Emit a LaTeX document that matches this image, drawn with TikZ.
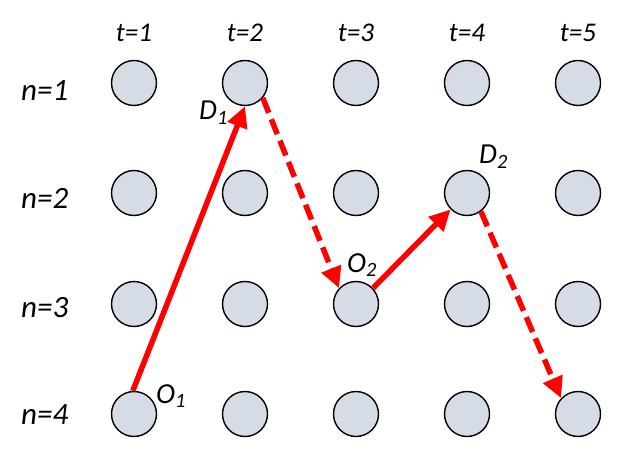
\documentclass[tikz,border=0pt]{standalone}
\usepackage{fontspec}
\setmainfont{Carlito}
\usetikzlibrary{arrows.meta}
\definecolor{nodefill}{HTML}{D6DCE5}
\tikzset{
  dot/.style={circle,draw=black,line width=1.4pt,fill=nodefill,minimum size=45pt,inner sep=0pt},
  tlab/.style={font=\fontsize{27}{27}\selectfont\itshape,anchor=base,inner sep=0pt},
  nlab/.style={font=\fontsize{31}{31}\selectfont\itshape,anchor=base west,inner sep=0pt},
  plab/.style={font=\fontsize{29}{29}\selectfont\itshape,anchor=base west,inner sep=0pt},
  route/.style={draw=red,line width=5.5pt,-{Triangle[length=21pt,width=20pt]}},
  routedash/.style={route,dash pattern=on 16pt off 7pt},
}
\begin{document}
\begin{tikzpicture}[x=1pt,y=-1pt]
\useasboundingbox (0,0) rectangle (631,454);
% circles
\foreach \c/\xx in {1/134,2/245,3/356,4/467,5/578}{
  \foreach \r/\yy in {1/83,2/193,3/304,4/414}{
    \node[dot] (c\c\r) at (\xx,\yy) {};
  }
}
% column labels
\foreach \c/\xx in {1/134,2/245,3/356,4/467,5/578}{
  \node[tlab] (t\c) at (\xx,42) {t=\c};
}
% row labels
\foreach \r/\yy in {1/101,2/209,3/317,4/424}{
  \node[nlab] (n\r) at (21,\yy) {n=\r};
}
% point labels
\node[plab] (lo1) at (156,403) {O\textsubscript{1}};
\node[plab] (ld1) at (199,120) {D\textsubscript{1}};
\node[plab] (lo2) at (347,272) {O\textsubscript{2}};
\node[plab] (ld2) at (479,164) {D\textsubscript{2}};
% routes
\draw[route] (c14.93) -- (c21.270);
\draw[routedash] (c21.-40) -- (c33.137);
\draw[route] (c33.43) -- (c42.225);
\draw[routedash] (c42.-53) -- (c54.137);
\end{tikzpicture}
\end{document}
